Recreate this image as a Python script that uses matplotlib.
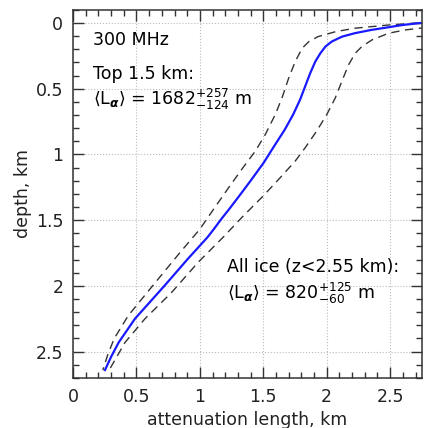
import numpy as np
import matplotlib
matplotlib.use('Agg')
import matplotlib.pyplot as plt
from matplotlib.ticker import MultipleLocator

# === DATA === #
# central estimate of attenuation length vs depth
depth_mid = [0.0, 0.015, 0.035, 0.053, 0.078, 0.104, 0.141, 0.179, 0.23, 0.293,
             0.381, 0.482, 0.583, 0.697, 0.81, 0.924, 1.063, 1.2, 1.316, 1.417,
             1.49, 1.568, 1.63, 1.8, 2.0, 2.25, 2.43, 2.54, 2.64]
latt_mid = [2.74, 2.60, 2.47, 2.35, 2.22, 2.12, 2.04, 1.99, 1.95, 1.91,
            1.87, 1.83, 1.79, 1.735, 1.67, 1.594, 1.503, 1.40, 1.31, 1.23,
            1.17, 1.11, 1.06, 0.90, 0.72, 0.488, 0.36, 0.30, 0.252]

# lower bound (dashed, left)
depth_lo = [0.0, 0.015, 0.04, 0.066, 0.104, 0.141, 0.192, 0.293, 0.419, 0.571,
            0.697, 0.848, 0.975, 1.1, 1.24, 1.4, 1.568, 1.75, 1.947, 2.225,
            2.40, 2.52, 2.64]
latt_lo = [2.72, 2.49, 2.22, 2.07, 1.93, 1.86, 1.806, 1.752, 1.70, 1.647,
           1.594, 1.516, 1.437, 1.34, 1.236, 1.12, 1.0, 0.84, 0.672, 0.436,
           0.325, 0.275, 0.235]

# upper bound (dashed, right)
depth_hi = [0.025, 0.035, 0.053, 0.078, 0.129, 0.179, 0.23, 0.318, 0.444, 0.571,
            0.697, 0.823, 0.949, 1.05, 1.18, 1.317, 1.47, 1.63, 1.82, 2.05,
            2.25, 2.43, 2.63]
latt_hi = [2.85, 2.776, 2.618, 2.487, 2.356, 2.277, 2.225, 2.172, 2.119, 2.067,
           2.0, 1.92, 1.83, 1.752, 1.63, 1.498, 1.34, 1.183, 0.987, 0.777,
           0.567, 0.41, 0.291]

freq_text = '300 MHz'
top_text = 'Top 1.5 km:'
top_val = r'$\langle$L$_{\boldsymbol{\alpha}}\rangle$ = $1682^{+257}_{-124}$ m'
all_text = 'All ice (z<2.55 km):'
all_val = r'$\langle$L$_{\boldsymbol{\alpha}}\rangle$ = $820^{+125}_{-60}$ m'


def plot_chart():
    plt.rcParams['mathtext.default'] = 'regular'
    plt.rcParams['font.size'] = 12.5

    fig = plt.figure(figsize=(4.27, 4.28), dpi=100)
    ax = fig.add_axes([0.171, 0.117, 0.817, 0.860])

    ax.plot(latt_lo, depth_lo, color='#333333', lw=1.0, ls=(0, (6, 4)))
    ax.plot(latt_hi, depth_hi, color='#333333', lw=1.0, ls=(0, (6, 4)))
    ax.plot(latt_mid, depth_mid, color='#1a1aff', lw=1.6)

    ax.set_xlim(0, 2.75)
    ax.set_ylim(2.7, -0.1)

    ax.xaxis.set_minor_locator(MultipleLocator(0.1))
    ax.yaxis.set_minor_locator(MultipleLocator(0.1))
    ax.set_xticks([0, 0.5, 1, 1.5, 2, 2.5])
    ax.set_xticklabels(['0', '0.5', '1', '1.5', '2', '2.5'])
    ax.set_yticks([0, 0.5, 1, 1.5, 2, 2.5])
    ax.set_yticklabels(['0', '0.5', '1', '1.5', '2', '2.5'])

    ax.tick_params(which='both', direction='in', top=True, right=True,
                   color='#333333', labelcolor='#222222')
    ax.tick_params(which='major', length=8, width=1.0, pad=7)
    ax.tick_params(which='minor', length=4.5, width=1.0)
    for s in ax.spines.values():
        s.set_linewidth(1.1)
        s.set_color('#333333')

    ax.grid(True, which='major', ls=':', color='#bbbbbb', lw=0.8)
    ax.set_axisbelow(True)

    ax.set_xlabel('attenuation length, km', labelpad=4, color='#222222')
    ax.set_ylabel('depth, km', labelpad=3, color='#222222')

    ax.text(0.157, 0.13, freq_text, va='center', ha='left')
    ax.text(0.157, 0.39, top_text, va='center', ha='left')
    ax.text(0.157, 0.58, top_val, va='center', ha='left')
    ax.text(1.21, 1.86, all_text, va='center', ha='left')
    ax.text(1.21, 2.06, all_val, va='center', ha='left')

    fig.savefig('out.png', dpi=100)


def main():
    plot_chart()


if __name__ == '__main__': main()
